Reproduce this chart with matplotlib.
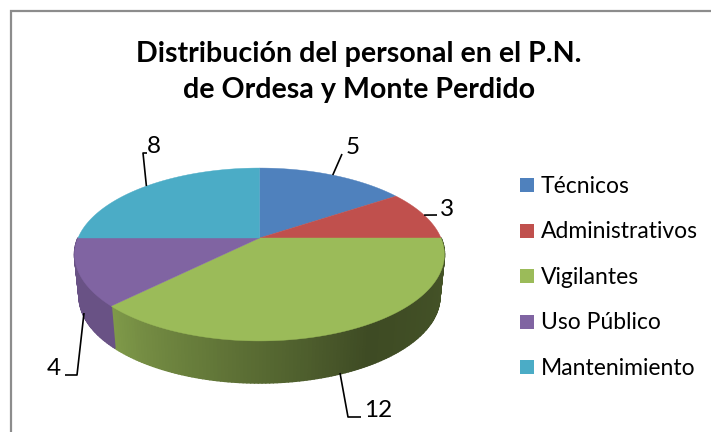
import numpy as np
import matplotlib
matplotlib.use("Agg")
import matplotlib.pyplot as plt
from matplotlib.collections import PolyCollection
from matplotlib.colors import to_rgb
from matplotlib.patches import Rectangle

title_lines = ["Distribución del personal en el P.N.", "de Ordesa y Monte Perdido"]
categories = ["Técnicos", "Administrativos", "Vigilantes", "Uso Público", "Mantenimiento"]
values = [5, 3, 12, 4, 8]
colors = ["#4f81bd", "#c0504d", "#9bbb59", "#8064a2", "#4bacc6"]

W, H = 711, 432
plt.rcParams["font.family"] = ["Lato", "DejaVu Sans"]
fig = plt.figure(figsize=(W / 100, H / 100), dpi=100)
ax = fig.add_axes([0, 0, 1, 1])
ax.set_xlim(0, W)
ax.set_ylim(H, 0)
ax.axis("off")

CX, CY, A, B, P = 259.5, 238.0, 181.5, 83.3, 0.1907
BOT_A, BOT_Y = 177.0, 280.0


def top(a):
    u, v = np.sin(a), np.cos(a)
    d = 1 + P * v
    return CX + A * u / d, CY - B * v / d


def bot(a):
    u, v = np.sin(a), np.cos(a)
    d = 1 + P * v
    return CX + BOT_A * u / d, BOT_Y - B * v / d


def shade(a, rgb):
    # side lighting: brightest to the left of the front, darkest right of front
    deg = np.degrees(a)
    f = np.interp(deg, [90, 150, 225, 270], [0.46, 0.40, 0.82, 0.82])
    return tuple(c * f for c in rgb)


# the frame is cut off on the right and at the bottom
ax.plot([11, 11, W], [H, 11, 11], color="#8c8c8c", lw=1.6, solid_joinstyle="miter")

edges = np.radians(np.concatenate([[0], np.cumsum(values)]) / sum(values) * 360)

polys, cols = [], []
for i, col in enumerate(colors):
    lo, hi = max(edges[i], np.pi / 2), min(edges[i + 1], 1.5 * np.pi)
    if hi <= lo:
        continue
    ts = np.linspace(lo, hi, int(np.degrees(hi - lo)) + 2)
    for a0, a1 in zip(ts[:-1], ts[1:]):
        x0, y0 = top(a0)
        x1, y1 = top(a1)
        x2, y2 = bot(a1)
        x3, y3 = bot(a0)
        polys.append([(x0, y0), (x1, y1), (x2, y2), (x3, y3)])
        cols.append(shade((a0 + a1) / 2, to_rgb(col)))
ax.add_collection(PolyCollection(polys, facecolors=cols, edgecolors=cols, linewidths=1.2))

for i, col in enumerate(colors):
    ts = np.linspace(edges[i], edges[i + 1], 200)
    xs, ys = top(ts)
    ax.fill(np.r_[CX, xs], np.r_[CY, ys], fc=col, ec=col, lw=0.3)

mids = (edges[:-1] + edges[1:]) / 2
anchors = [top(m) for m in mids]
anchors[2] = (340, 373)
anchors[3] = (84, 313)
leaders = [[(342, 154)], [(437, 215)], [(348, 417), (361, 417)], [(77, 375), (65, 375)], [(143, 153), (147, 153)]]
label_pos = [(353, 154), (447, 216), (378, 417), (54, 375), (154, 153)]
for anc, pts, lab, v in zip(anchors, leaders, label_pos, values):
    xs, ys = zip(anc, *pts)
    ax.plot(xs, ys, color="black", lw=1.2, solid_capstyle="butt")
    ax.text(lab[0], lab[1], str(v), ha="center", va="baseline", fontsize=17.5, color="black")

for line, y in zip(title_lines, [62, 98]):
    ax.text(359, y, line, ha="center", va="baseline", fontsize=20.6, fontweight="bold", color="black")

leg_y = [185, 231, 276, 322, 367]
leg_base = [193, 238, 284, 329, 375]
for name, col, y, b in zip(categories, colors, leg_y, leg_base):
    ax.add_patch(Rectangle((520, y - 7), 14, 14, fc=col, ec="none"))
    ax.text(541, b, name, ha="left", va="baseline", fontsize=16.5, color="black")

fig.savefig("out.png", dpi=100)
